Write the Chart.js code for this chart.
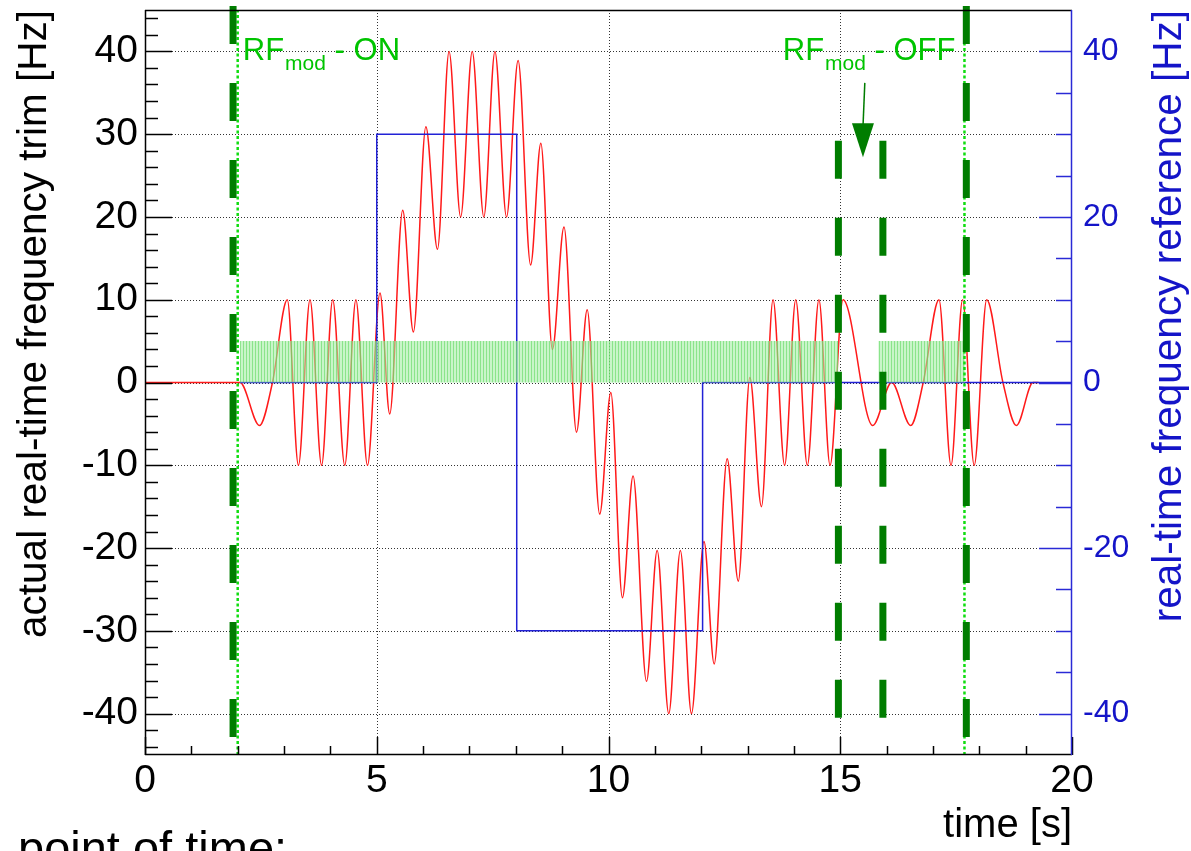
<!DOCTYPE html>
<html><head><meta charset="utf-8">
<script src="https://cdn.jsdelivr.net/npm/chart.js@4.4.0/dist/chart.umd.min.js"></script>
<style>html,body{margin:0;padding:0;background:#fff;overflow:hidden}#wrap{width:1191px;height:851px;position:relative}</style>
</head><body><div id="wrap"><canvas id="c"></canvas></div>
<script>
// ---------- data ----------
const trimTime  = [0, 2.05, 2.47, 2.75, 3.07, 3.31, 3.56, 3.81, 4.05, 4.31, 4.55, 4.80, 5.07, 5.28, 5.56, 5.79, 6.06, 6.31, 6.56, 6.81, 7.06, 7.31, 7.55, 7.80, 8.05, 8.32, 8.54, 8.79, 9.04, 9.31, 9.54, 9.81, 10.05, 10.30, 10.53, 10.82, 11.05, 11.30, 11.55, 11.79, 12.06, 12.28, 12.56, 12.80, 13.05, 13.30, 13.55, 13.80, 14.04, 14.29, 14.54, 14.78, 15.06, 15.70, 16.11, 16.52, 16.79, 17.13, 17.39, 17.64, 17.89, 18.16, 18.51, 18.80, 19.16, 19.28];
const trimValue = [0, 0, -5.2, 0, 10, -10, 10, -10, 10, -10, 10, -10, 10.8, -3.8, 20.8, 6.1, 30.9, 16.1, 40, 20, 40, 20, 40, 20, 38.9, 14.2, 28.9, 4.0, 18.8, -6.0, 8.8, -15.9, -1.2, -26.0, -11.3, -36.1, -20.3, -40, -20.3, -40, -19.2, -34.0, -9.2, -24, 0.6, -15, 10, -10, 10, -10, 10, -10, 10, -5.2, 0, -5.2, 0, 10, -10, 10, -10, 10, 0, -5.2, 0, 0];
const refTime   = [2.05, 5.0, 8.02, 12.03, 20];
const refValue  = [0, 30, -30, 0, 0];
const bandStart = [2.05, 15.82];
const bandEnd   = [14.96, 17.70];
const bandTop   = 5;
const switchTime = [2.0, 17.68];                  // thin dotted green lines
const markerTime   = [1.90, 14.96, 15.92, 17.72]; // thick dashed green lines
const markerTop    = [45.48, 29.2, 29.2, 45.48];
const markerBottom = [-45, -40.5, -40.5, -45];
const xTickValues  = [0, 5, 10, 15, 20];
const yTickValues  = [-40, -30, -20, -10, 0, 10, 20, 30, 40];
const y2TickValues = [-40, -20, 0, 20, 40];
const labelOn  = {t: 2.11, v: 39.0, text: ' - ON'};
const labelOff = {t: 13.76, v: 39.0, text: ' - OFF'};
const arrowFrom = {t: 15.53, v: 36.2};
const arrowTip  = {t: 15.49, v: 27.2};

// ---------- build ----------
const FONT = '"Liberation Sans", Arial, Helvetica, sans-serif';
const cv = document.getElementById('c');
const pc = document.createElement('canvas'); pc.width = 3; pc.height = 1;
const pctx = pc.getContext('2d');
pctx.fillStyle = 'rgba(165,238,165,0.6)'; pctx.fillRect(0,0,3,1);
pctx.fillStyle = 'rgba(90,215,90,0.55)'; pctx.fillRect(0,0,1,1);
const bandPattern = cv.getContext('2d').createPattern(pc, 'repeat');

const datasets = [];
markerTime.forEach((t,i) => datasets.push({
  data: [{x:t, y:markerTop[i]}, {x:t, y:markerBottom[i]}],
  borderColor:'#007d00', borderWidth:7, borderDash:[38,39], pointRadius:0, clip:false, order:0, yAxisID:'y'}));
switchTime.forEach(t => datasets.push({
  data: [{x:t, y:-45}, {x:t, y:45}],
  borderColor:'#10dd10', borderWidth:2.5, borderDash:[3,2.5], pointRadius:0, order:1, yAxisID:'y'}));
bandStart.forEach((s,i) => datasets.push({
  data: [{x:s, y:bandTop}, {x:bandEnd[i], y:bandTop}],
  borderWidth:0, borderColor:'rgba(0,0,0,0)', backgroundColor: bandPattern, fill:'origin', pointRadius:0, order:2, yAxisID:'y'}));
datasets.push({
  data: refTime.map((t,i)=>({x:t, y:refValue[i]})),
  stepped:'before', borderColor:'#2222d6', borderWidth:1.5, pointRadius:0, order:3, yAxisID:'y2'});
datasets.push({
  data: trimTime.map((t,i)=>({x:t, y:trimValue[i]})),
  cubicInterpolationMode:'monotone', borderColor:'#ff1a1a', borderWidth:1.5, pointRadius:0, order:4, yAxisID:'y'});

function line(ctx,x1,y1,x2,y2){ctx.beginPath();ctx.moveTo(x1,y1);ctx.lineTo(x2,y2);ctx.stroke();}

const deco = {
  id:'deco',
  beforeDatasetsDraw(chart){
    const {ctx, chartArea:a, scales:{x, y}} = chart;
    ctx.save();
    ctx.strokeStyle = '#333'; ctx.lineWidth = 1; ctx.setLineDash([1,2]);
    xTickValues.forEach(t => { if (t<=0 || t>=20) return;
      const px = Math.round(x.getPixelForValue(t))+0.5; line(ctx, px, a.top, px, a.bottom); });
    yTickValues.forEach(v => {
      const py = Math.round(y.getPixelForValue(v))+0.5; line(ctx, a.left, py, a.right, py); });
    ctx.restore();
  },
  afterDatasetsDraw(chart){
    const {ctx, chartArea:a, scales:{x, y, y2}} = chart;
    ctx.save();
    ctx.strokeStyle = '#000'; ctx.lineWidth = 1.5;
    line(ctx, a.left, a.top+0.5, a.right, a.top+0.5);
    line(ctx, a.left+0.5, a.top, a.left+0.5, a.bottom);
    line(ctx, a.left, a.bottom-0.5, a.right, a.bottom-0.5);
    for (let v=-44; v<=44; v+=2){
      const py = Math.round(y.getPixelForValue(v))+0.5;
      line(ctx, a.left, py, a.left + (v%10===0?27:13), py);
    }
    for (let t=0; t<=20; t++){
      const px = Math.round(x.getPixelForValue(t))+0.5;
      line(ctx, px, a.bottom, px, a.bottom - (t%5===0?18:9));
    }
    ctx.strokeStyle = '#2a2ad6';
    line(ctx, a.right-0.5, a.top, a.right-0.5, a.bottom);
    for (let v=-40; v<=40; v+=5){
      const py = Math.round(y2.getPixelForValue(v))+0.5;
      line(ctx, a.right, py, a.right - (v%20===0?33:16), py);
    }
    ctx.restore();
  },
  afterDraw(chart){
    const {ctx, chartArea:a, scales:{x, y}} = chart;
    ctx.save();
    ctx.fillStyle = '#000';
    ctx.font = '40.5px ' + FONT;
    ctx.save(); ctx.translate(35, a.top); ctx.rotate(-Math.PI/2);
    ctx.textAlign='right'; ctx.textBaseline='middle';
    ctx.fillText('actual real-time frequency trim [Hz]', 0, 0); ctx.restore();
    ctx.fillStyle = '#1414c8';
    ctx.save(); ctx.translate(1170, a.top); ctx.rotate(-Math.PI/2);
    ctx.textAlign='right'; ctx.textBaseline='middle';
    ctx.fillText('real-time frequency reference [Hz]', 0, 0); ctx.restore();
    ctx.fillStyle = '#000'; ctx.textAlign='right'; ctx.textBaseline='alphabetic';
    ctx.font = '40px ' + FONT;
    ctx.fillText('time [s]', a.right, 837);
    ctx.textAlign='left';
    ctx.font = '47px ' + FONT;
    ctx.fillText('point of time:', 18, 864);
    // RF labels
    ctx.fillStyle = '#00c400';
    [labelOn, labelOff].forEach(L => {
      let px = x.getPixelForValue(L.t), py = y.getPixelForValue(L.v);
      ctx.font = '31px ' + FONT; ctx.fillText('RF', px, py); px += ctx.measureText('RF').width + 1;
      ctx.font = '21px ' + FONT; ctx.fillText('mod', px, py + 10); px += ctx.measureText('mod').width;
      ctx.font = '31px ' + FONT; ctx.fillText(L.text, px, py);
    });
    // arrow
    const ax1 = x.getPixelForValue(arrowFrom.t), ay1 = y.getPixelForValue(arrowFrom.v);
    const ax2 = x.getPixelForValue(arrowTip.t),  ay2 = y.getPixelForValue(arrowTip.v);
    ctx.strokeStyle = '#007d00'; ctx.fillStyle = '#007d00'; ctx.lineWidth = 1.5;
    line(ctx, ax1, ay1, ax2, ay2 - 30);
    ctx.beginPath(); ctx.moveTo(ax2, ay2); ctx.lineTo(ax2 - 11, ay2 - 34); ctx.lineTo(ax2 + 11, ay2 - 34); ctx.closePath(); ctx.fill();
    ctx.restore();
  }
};

const noPadY = s => { s.paddingTop = 0; s.paddingBottom = 0; };
new Chart(cv, {
  type:'line',
  data:{datasets},
  plugins:[deco],
  options:{
    responsive:true, maintainAspectRatio:false, animation:false,
    layout:{padding:{top:10, left:0, right:0, bottom:0}},
    plugins:{legend:{display:false}, tooltip:{enabled:false}},
    elements:{line:{tension:0}},
    scales:{
      x:{type:'linear', min:0, max:20,
        afterBuildTicks:s=>{s.ticks = xTickValues.map(v=>({value:v}));},
        afterFit:s=>{s.height = 96; s.paddingLeft = 0; s.paddingRight = 0;},
        grid:{display:false, drawTicks:false}, border:{display:false},
        ticks:{padding:3, maxRotation:0, color:'#000', font:{family:FONT, size:39}}},
      y:{position:'left', min:-45, max:45,
        afterBuildTicks:s=>{s.ticks = yTickValues.map(v=>({value:v}));},
        afterFit:s=>{s.width = 145; noPadY(s);},
        grid:{display:false, drawTicks:false}, border:{display:false},
        ticks:{padding:7, color:'#000', font:{family:FONT, size:39}}},
      y2:{position:'right', min:-45, max:45,
        afterBuildTicks:s=>{s.ticks = y2TickValues.map(v=>({value:v}));},
        afterFit:s=>{s.width = 119; noPadY(s);},
        grid:{display:false, drawTicks:false}, border:{display:false},
        ticks:{padding:11, color:'#1414c8', font:{family:FONT, size:32}}}
    }
  }
});
</script></body></html>
